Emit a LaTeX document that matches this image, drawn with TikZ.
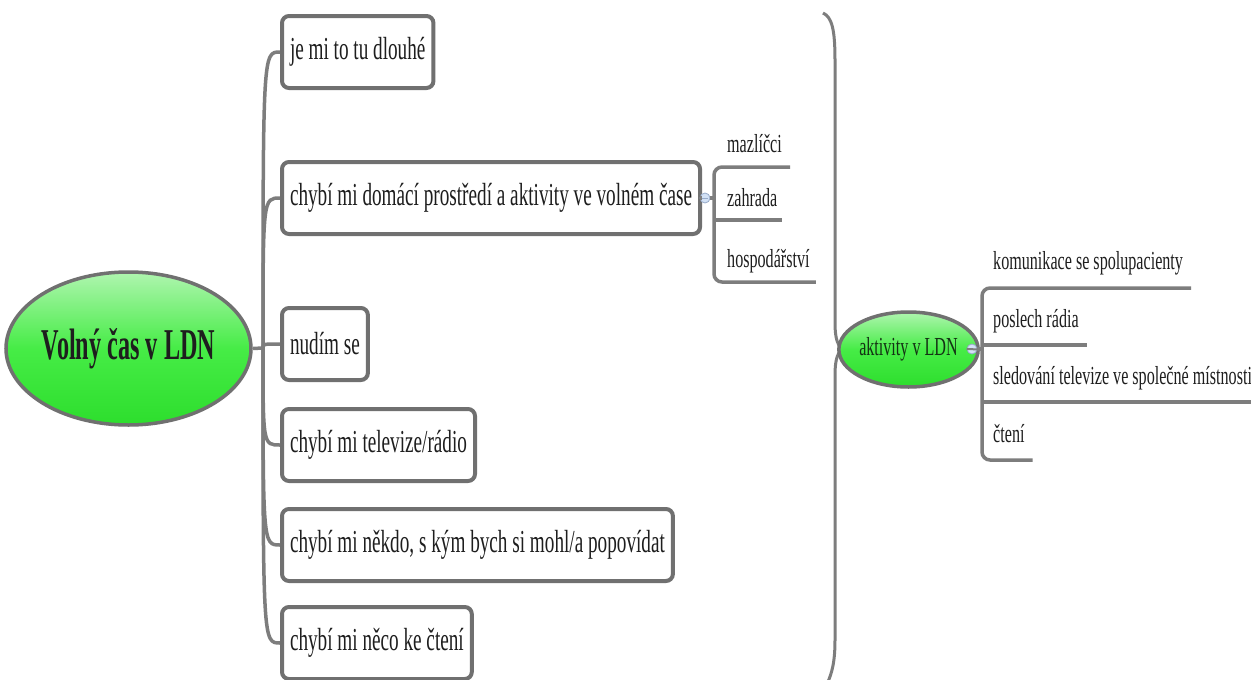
\documentclass[tikz,border=0pt]{standalone}
\usepackage{fontspec}
\usetikzlibrary{shapes.geometric}
\newfontfamily\boxfont[FakeStretch=0.6]{Liberation Serif}
\newfontfamily\leaffont[FakeStretch=0.62]{Liberation Serif}
\newfontfamily\rootfont[FakeStretch=0.55]{Liberation Serif}
\definecolor{branch}{RGB}{125,125,125}
\definecolor{frame}{RGB}{112,112,112}
\definecolor{ink}{RGB}{30,30,30}
\definecolor{greenink}{RGB}{20,50,20}
\definecolor{greenlight}{RGB}{175,245,175}
\definecolor{greenmid}{RGB}{70,236,70}
\definecolor{greendark}{RGB}{45,222,45}
\definecolor{knobfill}{RGB}{210,225,245}
\definecolor{knobline}{RGB}{150,170,200}
\tikzset{
  topic/.style={ellipse, draw=frame, line width=3.5pt, top color=greenlight,
    bottom color=greendark, middle color=greenmid, inner sep=0pt, text=ink},
  box/.style={draw=frame, line width=4pt, rounded corners=7pt, fill=white,
    anchor=west, minimum height=72pt, inner xsep=8pt, text=ink,
    font=\boxfont\fontsize{32}{34}\selectfont},
  leaf/.style={anchor=base west, inner xsep=0pt, text=ink,
    font=\leaffont\fontsize{26}{28}\selectfont},
  link/.style={draw=branch, line width=3.5pt},
  knob/.style={circle, draw=knobline, fill=knobfill, line width=0.8pt,
    minimum size=10pt, inner sep=0pt},
}
\begin{document}
\begin{tikzpicture}[x=1pt,y=-1pt]
\useasboundingbox[fill=white] (0,0) rectangle (1251,680);

% central topic
\node[topic, minimum width=237pt, minimum height=153pt,
  font=\rootfont\bfseries\fontsize{44}{48}\selectfont] (root) at (128.5,348.5) {Volný čas v LDN};

% first-level topics
\node[box] (b1) at (280,52)  {je mi to tu dlouhé};
\node[box] (b2) at (280,198) {chybí mi domácí prostředí a aktivity ve volném čase};
\node[box] (b3) at (280,344) {nudím se};
\node[box] (b4) at (280,445) {chybí mi televize/rádio};
\node[box] (b5) at (280,545) {chybí mi někdo, s kým bych si mohl/a popovídat};
\node[box] (b6) at (280,643) {chybí mi něco ke čtení};

\coordinate (hub) at (263,348);
\draw[link] (root.east) -- (hub);
\foreach \b in {b1,b2,b3,b4,b5,b6}
  \draw[link] (hub) .. controls (hub |- \b.west) .. (\b.west);

% subtopics of the second box
\node[knob] (k1) at (705,198) {};
\draw[knobline, line width=0.8pt] ([xshift=2.5pt]k1.west) -- ([xshift=-2.5pt]k1.east);
\draw[link] (b2.east) -- (k1.west);
\node[leaf] (s1) at (727,152) {mazlíčci};
\node[leaf] (s2) at (727,206) {zahrada};
\node[leaf] (s3) at (727,267) {hospodářství};
\coordinate (fork1) at (714,198);
\coordinate (e1) at ([shift={(8pt,-15pt)}]s1.base east);
\coordinate (e2) at ([shift={(4pt,-14pt)}]s2.base east);
\coordinate (e3) at ([shift={(6pt,-15pt)}]s3.base east);
\draw[link] (k1.east) -- (fork1);
\draw[link, rounded corners=8pt] (e1) -- (fork1 |- e1) -- (fork1 |- e3) -- (e3);
\draw[link] (fork1 |- e2) -- (e2);

% large brace gathering the first-level topics
\coordinate (tip) at (844,349);
\draw[link, line width=3pt] (823,13) .. controls (832,17) and (835,30) .. (835,60)
  -- (835,322) .. controls (835,340) and (838,347) .. (tip)
  .. controls (838,351) and (835,358) .. (835,376)
  -- (835,640) .. controls (835,662) and (832,673) .. (827,684);

% resulting activities
\node[topic, minimum width=113pt, minimum height=75pt, text=greenink,
  font=\leaffont\fontsize{26}{28}\selectfont] (act) at (908.5,349.5) {aktivity v LDN};
\node[knob] (k2) at (972,349) {};
\draw[knobline, line width=0.8pt] ([xshift=2.5pt]k2.west) -- ([xshift=-2.5pt]k2.east);
\draw[link, line width=2pt] (act.east) -- (k2.west);
\node[leaf] (r1) at (993,269) {komunikace se spolupacienty};
\node[leaf] (r2) at (993,327) {poslech rádia};
\node[leaf] (r3) at (993,384) {sledování televize ve společné místnosti};
\node[leaf] (r4) at (993,442) {čtení};
\coordinate (fork2) at (982,349);
\coordinate (f1) at ([shift={(8pt,-19pt)}]r1.base east);
\coordinate (f2) at ([shift={(8pt,-18pt)}]r2.base east);
\coordinate (f3) at ([shift={(8pt,-18pt)}]r3.base east);
\coordinate (f4) at ([shift={(8pt,-18pt)}]r4.base east);
\draw[link] (k2.east) -- (fork2);
\draw[link, rounded corners=8pt] (f1) -- (fork2 |- f1) -- (fork2 |- f4) -- (f4);
\draw[link] (fork2 |- f2) -- (f2);
\draw[link] (fork2 |- f3) -- (f3);
\end{tikzpicture}
\end{document}
